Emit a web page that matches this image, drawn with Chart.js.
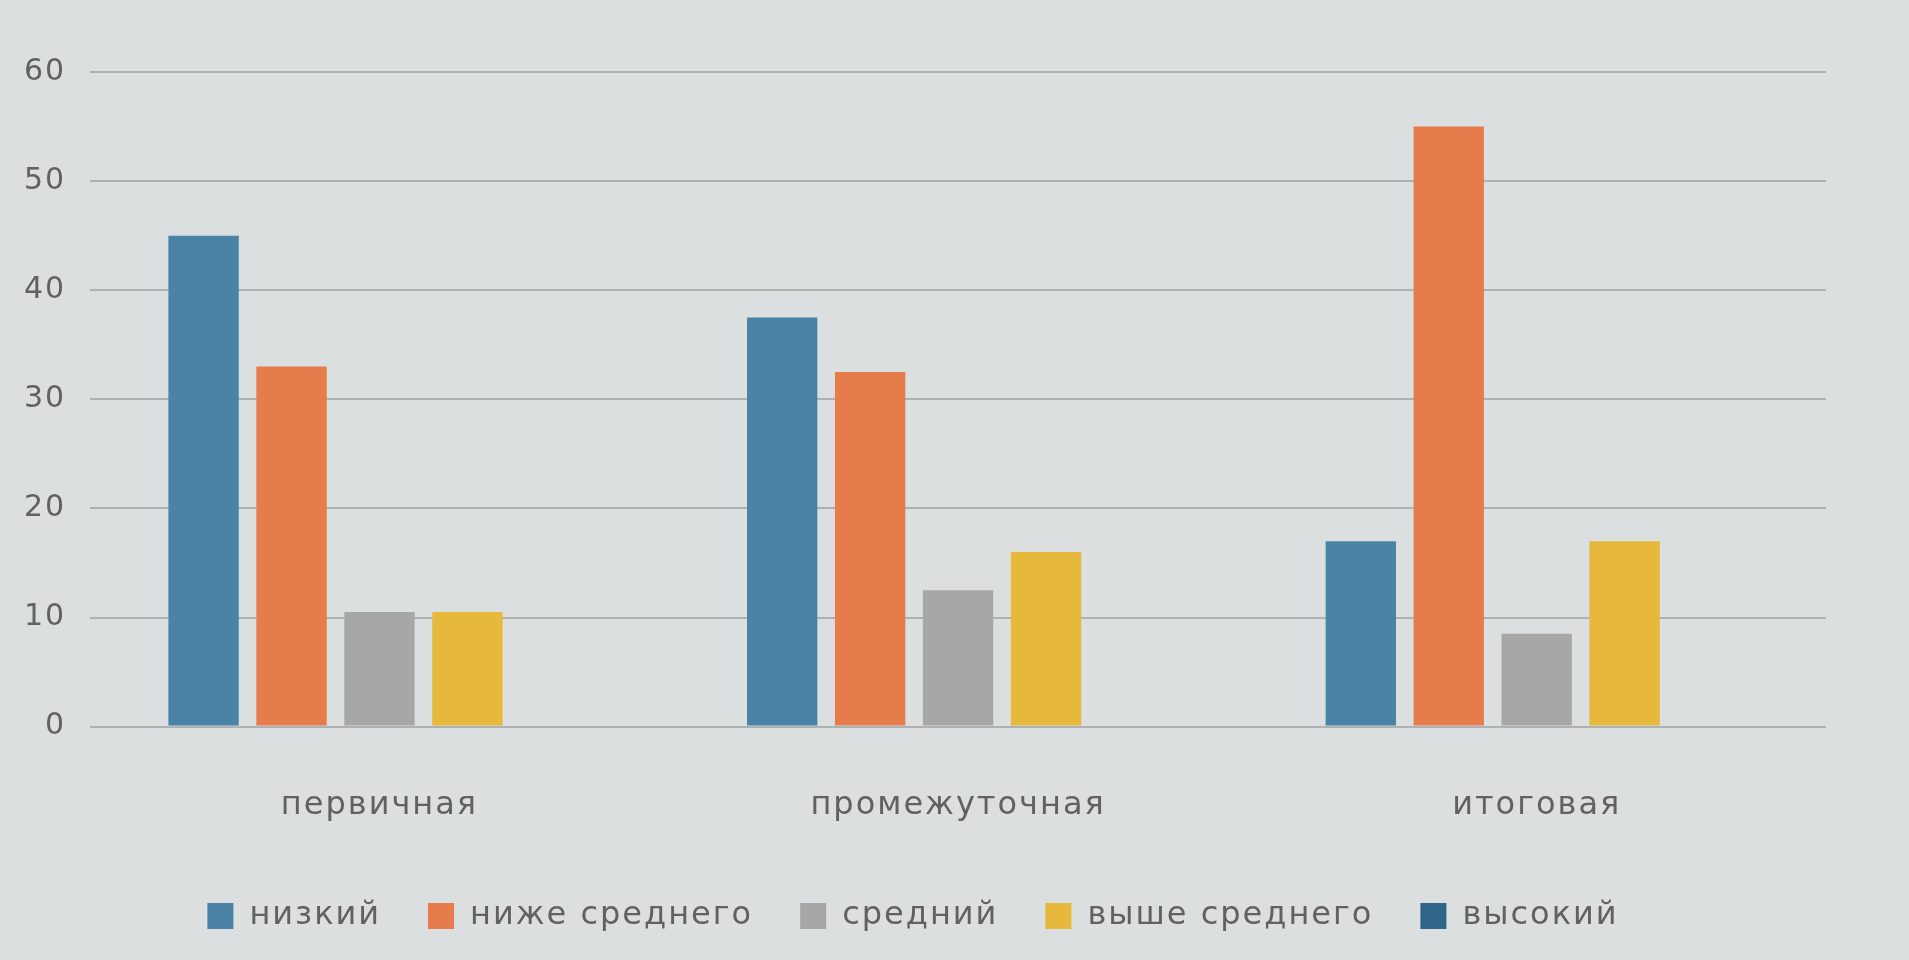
<!DOCTYPE html>
<html lang="ru">
<head>
<meta charset="utf-8">
<title>Уровни</title>
<script src="https://cdn.jsdelivr.net/npm/chart.js@4.4.1/dist/chart.umd.min.js"></script>
<style>
  html, body { margin: 0; padding: 0; background: #dcdfe0; }
  #wrap { width: 1909px; height: 960px; position: relative; }
</style>
</head>
<body>
<div id="wrap"><canvas id="c"></canvas></div>
<script>
// ---- data ----
const categories = ['первичная', 'промежуточная', 'итоговая'];
const seriesNames = ['низкий', 'ниже среднего', 'средний', 'выше среднего', 'высокий'];
const nizkiy = [45, 37.5, 17];
const nizheSrednego = [33, 32.5, 55];
const sredniy = [10.5, 12.5, 8.5];
const vysheSrednego = [10.5, 16, 17];
const vysokiy = [0, 0, 0];
const yTicks = [0, 10, 20, 30, 40, 50, 60];

const seriesValues = [nizkiy, nizheSrednego, sredniy, vysheSrednego, vysokiy];
const seriesColors = ['#4a83a6', '#e67b4b', '#a7a7a7', '#e6b93c', '#2e6589'];

const SPACING = '2px';
const spacingPlugin = {
  id: 'spacing',
  afterInit(chart) {
    const lg = chart.legend;
    if (lg) {
      const orig = lg.fit.bind(lg);
      lg.fit = function () { orig(); this.height += 18; };
    }
  },
  beforeUpdate(chart) { chart.ctx.letterSpacing = SPACING; },
  beforeLayout(chart) { chart.ctx.letterSpacing = SPACING; },
  beforeDraw(chart) { chart.ctx.letterSpacing = SPACING; }
};

const textColor = '#616161';
const fontFamily = '"DejaVu Sans", sans-serif';

new Chart(document.getElementById('c'), {
  type: 'bar',
  data: {
    labels: categories,
    datasets: seriesNames.map((name, i) => ({
      label: name,
      data: seriesValues[i],
      backgroundColor: seriesColors[i],
      borderWidth: 0
    }))
  },
  options: {
    responsive: true,
    maintainAspectRatio: false,
    animation: false,
    datasets: { bar: { categoryPercentage: 0.76, barPercentage: 0.8 } },
    layout: { padding: { top: 72, left: 0, right: 83, bottom: 0 } },
    scales: {
      x: {
        grid: { display: false, drawTicks: false },
        border: { display: false },
        ticks: { color: textColor, font: { family: fontFamily, size: 32 }, padding: 60 },
        afterFit(scale) { scale.height -= 32; }
      },
      y: {
        min: 0, max: 60,
        afterBuildTicks(scale) { scale.ticks = yTicks.map(v => ({ value: v })); },
        grid: { color: '#aeb2b3', lineWidth: 2, drawTicks: false },
        border: { display: false },
        ticks: { color: textColor, font: { family: fontFamily, size: 30 }, padding: 24 }
      }
    },
    plugins: {
      legend: {
        position: 'bottom',
        labels: {
          color: textColor,
          font: { family: fontFamily, size: 32 },
          boxWidth: 26, boxHeight: 26,
          padding: 47
        }
      },
      tooltip: { enabled: false }
    }
  },
  plugins: [spacingPlugin]
});
</script>
</body>
</html>
